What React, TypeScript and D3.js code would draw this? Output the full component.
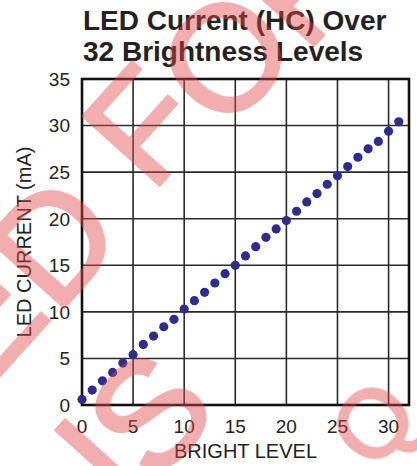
import * as React from 'react'
import * as d3 from 'd3'

// bright levels 0..31 and measured LED current (mA)
const brightLevels = d3.range(0, 32)
const currentMA = [
  0.6, 1.6, 2.6, 3.5, 4.5, 5.4, 6.5, 7.4, 8.4, 9.2,
  10.3, 11.2, 12.1, 13.1, 14.1, 15.0, 16.0, 17.0, 18.0, 18.9,
  19.8, 20.8, 21.8, 22.7, 23.7, 24.6, 25.6, 26.6, 27.5, 28.3,
  29.4, 30.4,
]
const xTicks = [0, 5, 10, 15, 20, 25, 30]
const yTicks = [0, 5, 10, 15, 20, 25, 30, 35]
const titleLines = ['LED Current (HC) Over', '32 Brightness Levels']

// pink stamp letters over the page
const stamp = [
  {ch: 'E', x: -20, y: 317, size: 150},
  {ch: 'D', x: 52, y: 240, size: 150},
  {ch: 'F', x: 142, y: 124, size: 150},
  {ch: 'O', x: 224, y: 56, size: 150},
  {ch: 'R', x: 302, y: -22, size: 150},
  {ch: 'I', x: 97, y: 458, size: 150},
  {ch: 'S', x: 148, y: 412, size: 150},
  {ch: 'Q', x: 372, y: 422, size: 95},
]

const W = 417
const H = 466
const left = 82, right = 409, top = 79, bottom = 405
const font = '"Liberation Sans", Arial, Helvetica, sans-serif'

export default function App() {
  const x = d3.scaleLinear().domain([0, 32]).range([left, right])
  const y = d3.scaleLinear().domain([0, 35]).range([bottom, top])

  return (
    <svg width={W} height={H} style={{position: 'absolute', left: 0, top: 0, background: '#fff'}}
      fontFamily={font}>
      <rect width={W} height={H} fill="#fff" />

      {titleLines.map((t, i) => (
        <text key={t} x={83} y={30 + i * 31} fontSize={28} fontWeight="bold" fill="#222">{t}</text>
      ))}

      {/* grid */}
      {xTicks.filter(d => d > 0).map(d => (
        <line key={'gx' + d} x1={x(d)} x2={x(d)} y1={top} y2={bottom} stroke="#2a2a2a" strokeWidth={1.6} />
      ))}
      {yTicks.filter(d => d > 0 && d < 35).map(d => (
        <line key={'gy' + d} x1={left} x2={right} y1={y(d)} y2={y(d)} stroke="#2a2a2a" strokeWidth={1.6} />
      ))}
      <rect x={left} y={top} width={right - left} height={bottom - top} fill="none" stroke="#111" strokeWidth={2.6} />

      {/* tick labels */}
      {xTicks.map(d => (
        <text key={'tx' + d} x={x(d)} y={433} fontSize={19} textAnchor="middle" fill="#222">{d}</text>
      ))}
      {yTicks.map(d => (
        <text key={'ty' + d} x={70} y={y(d)} dy="0.36em" fontSize={19} textAnchor="end" fill="#222">{d}</text>
      ))}

      <text x={(left + right) / 2} y={458} fontSize={20} textAnchor="middle" fill="#222">BRIGHT LEVEL</text>
      <text transform={`translate(31, ${(top + bottom) / 2}) rotate(-90)`} fontSize={20} textAnchor="middle" fill="#222">
        LED CURRENT (mA)
      </text>

      {/* data */}
      {brightLevels.map((b, i) => (
        <circle key={b} cx={x(b)} cy={y(currentMA[i])} r={4.6} fill="#2e2d8c" />
      ))}

      {/* stamp */}
      <g opacity={0.45} fill="rgb(225,75,75)" stroke="rgb(225,75,75)" strokeWidth={3} fontFamily={font}>
        {stamp.map((s, i) => (
          <text key={i} transform={`translate(${s.x}, ${s.y}) rotate(-48)`} fontSize={s.size}
            textAnchor="middle" dy="0.36em">{s.ch}</text>
        ))}
      </g>
    </svg>
  )
}
